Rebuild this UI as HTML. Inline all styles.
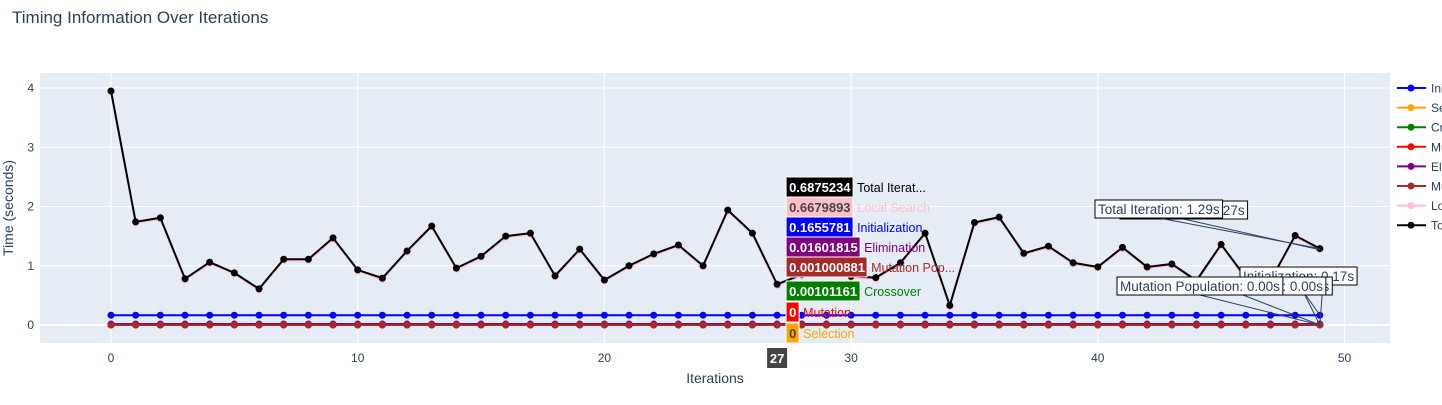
<!DOCTYPE html>
<html><head><meta charset="utf-8"><style>
body{margin:0;background:#fff;width:1442px;height:400px;overflow:hidden;font-family:"Liberation Sans",sans-serif}
svg text{font-family:"Liberation Sans",sans-serif}
</style></head><body>
<svg id="c" width="1442" height="400">
<text x="12" y="23" font-size="17" fill="#2a3f5f">Timing Information Over Iterations</text>
<rect x="40" y="73" width="1350" height="270" fill="#e5ecf6"/>
<g id="grid"></g><g id="series"></g><g id="hover"></g><g id="legend"></g>
<text x="715" y="383" font-size="14" fill="#2a3f5f" text-anchor="middle">Iterations</text>
<text transform="translate(13,208) rotate(-90)" font-size="14" fill="#2a3f5f" text-anchor="middle">Time (seconds)</text>
</svg>
<script>
const names=["Initialization","Selection","Crossover","Mutation","Elimination","Mutation Population","Local Search","Total Iteration"];
const colors=["blue","orange","green","red","purple","brown","pink","black"];
const totalVals=[3.95,1.74,1.81,0.78,1.06,0.88,0.61,1.11,1.11,1.47,0.93,0.79,1.25,1.67,0.96,1.16,1.50,1.55,0.83,1.28,0.76,1.00,1.20,1.35,1.00,1.94,1.55,0.6875,0.85,0.95,0.82,0.80,1.05,1.55,0.33,1.73,1.82,1.21,1.33,1.05,0.98,1.31,0.98,1.03,0.75,1.36,0.80,0.75,1.51,1.29];
const initVal=0.1656, elimVal=0.016, smallVal=0.001, localOffset=0.02;
const xTicks=[0,10,20,30,40,50];
const yTicks=[0,1,2,3,4];
const X=v=>111+v*24.67, Y=v=>325-v*59.25;
const NS="http://www.w3.org/2000/svg";
function mk(t,a,p,txt){const e=document.createElementNS(NS,t);for(const k in a)e.setAttribute(k,a[k]);if(txt!==undefined)e.textContent=txt;p.appendChild(e);return e;}
const grid=document.getElementById('grid');
xTicks.forEach(t=>{mk('line',{x1:X(t),x2:X(t),y1:73,y2:343,stroke:'#fff','stroke-width':1},grid);
const l=mk('text',{x:X(t),y:362,'font-size':12,fill:'#2a3f5f','text-anchor':'middle'},grid,t);

});
yTicks.forEach(t=>{mk('line',{x1:40,x2:1390,y1:Y(t),y2:Y(t),stroke:'#fff','stroke-width':t===0?2:1},grid);
const l=mk('text',{x:34,y:Y(t)+4,'font-size':12,fill:'#2a3f5f','text-anchor':'end'},grid,t);

});
const seriesVals=[
 totalVals.map(()=>initVal),
 totalVals.map(()=>0),
 totalVals.map(()=>smallVal),
 totalVals.map(()=>0),
 totalVals.map(()=>elimVal),
 totalVals.map(()=>smallVal),
 totalVals.map(v=>v-localOffset),
 totalVals];
const sg=document.getElementById('series');
seriesVals.forEach((vals,si)=>{
 const g=mk('g',{},sg);
 
 
 mk('polyline',{points:vals.map((v,i)=>X(i)+','+Y(v)).join(' '),fill:'none',stroke:colors[si],'stroke-width':2},g);
 vals.forEach((v,i)=>{const c=mk('circle',{cx:X(i),cy:Y(v),r:3.5,fill:colors[si]},g);
 
 });
});
const hg=document.getElementById('hover');
const hx=X(27);
const hov=[["0.6875234","Total Iterat...","black","#fff","black",177,67],["0.6679893","Local Search","pink","#444","pink",197,67],["0.1655781","Initialization","blue","#fff","blue",217,67],["0.01601815","Elimination","purple","#fff","purple",237,74],["0.001000881","Mutation Pop...","brown","#fff","brown",257,81],["0.00101161","Crossover","green","#fff","green",281,74],["0","Mutation","red","#fff","red",302,13],["0","Selection","orange","#444","orange",323,13]];
hov.forEach(h=>{const g=mk('g',{},hg);
 
 
 mk('rect',{x:hx+9,y:h[5],width:h[6],height:20,fill:h[2],stroke:'#fff'},g);
 mk('text',{x:hx+12,y:h[5]+15,'font-size':13,fill:h[3],'font-weight':'bold'},g,h[0]);
 mk('text',{x:hx+13+h[6],y:h[5]+15,'font-size':12.5,fill:h[4]},g,h[1]);});
const xl=mk('g',{},hg);


mk('rect',{x:hx-10,y:348,width:20,height:20,fill:'#444'},xl);
mk('text',{x:hx,y:363,'font-size':13,fill:'#fff','text-anchor':'middle','font-weight':'bold'},xl,'27');
const ann=[[1120,201,"Total Iteration: 1.27s",X(49),Y(1.27)],[1095,200,"Total Iteration: 1.29s",X(49),Y(1.29)],[1240,267,"Initialization: 0.17s",X(49),Y(0.17)],[1312,277,"0s",X(49),Y(0)],[1291,277,"00s",X(49),Y(0)],[1160,277,"Mutation Population: 0.00s",X(49),Y(0)],[1117,277,"Mutation Population: 0.00s",X(49),Y(0)]];
ann.forEach(a=>{const g=mk('g',{},hg);
 
 
 const ln=mk('line',{x1:a[0],y1:a[1]+18,x2:a[3],y2:a[4],stroke:'#2a3f5f','stroke-width':1},g);
 const r=mk('rect',{x:a[0],y:a[1],width:10,height:18,fill:'#fff',stroke:'#000'},g);
 const t=mk('text',{x:a[0]+3,y:a[1]+14,'font-size':13.5,fill:'#2a3f5f'},g,a[2]);
 const w=t.getComputedTextLength()+6;
 r.setAttribute('width',w);
 ln.setAttribute('x1',a[0]+w/2);});
const lg=document.getElementById('legend');
names.forEach((n,i)=>{const y=88+i*19.6;const g=mk('g',{},lg);
 
 
 mk('line',{x1:1397,x2:1426,y1:y,y2:y,stroke:colors[i],'stroke-width':2},g);
 mk('circle',{cx:1411,cy:y,r:3.5,fill:colors[i]},g);
 mk('text',{x:1431,y:y+4.5,'font-size':12,fill:'#2a3f5f'},g,n);});
</script>
</body></html>
